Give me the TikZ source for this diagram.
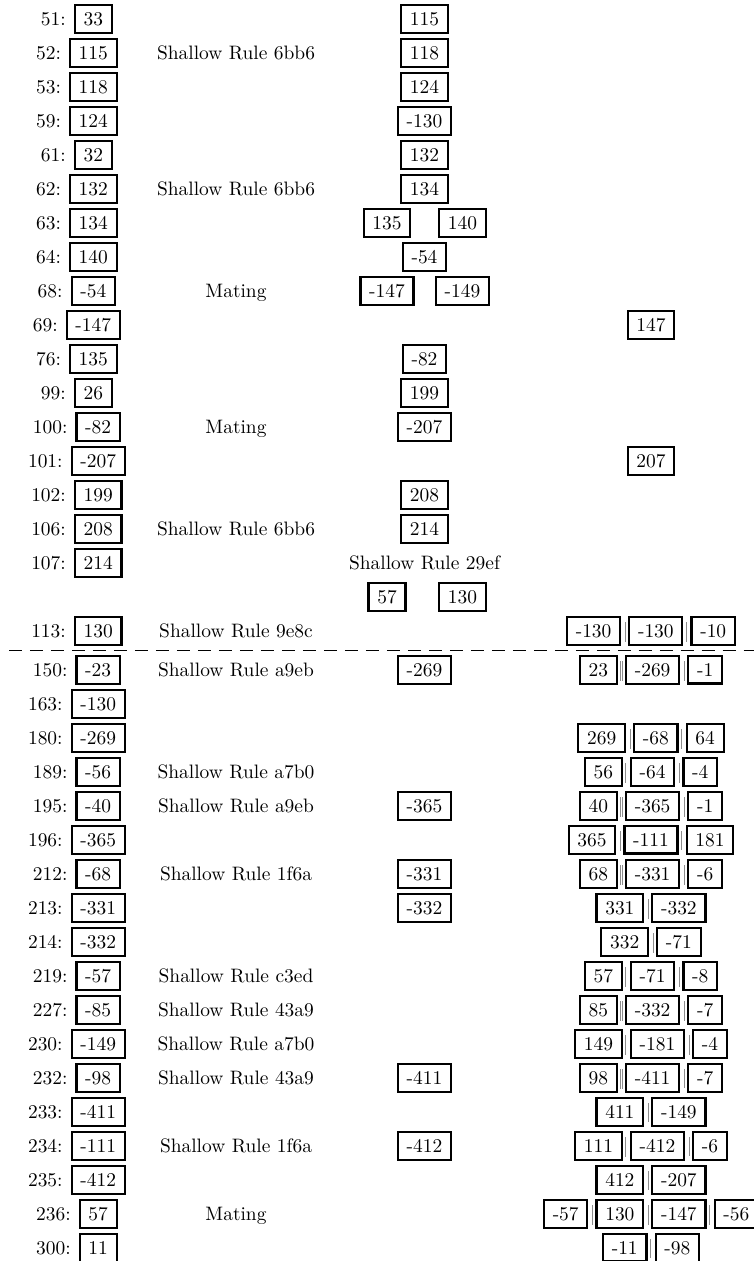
\documentclass[tikz,border=0pt]{standalone}
\usepackage{tikz}
\usetikzlibrary{positioning,matrix}

\begin{document}
\begin{tikzpicture}[x=0.5145pt,y=0.5145pt,
  numbox/.style={draw,line width=1.1pt,inner xsep=4.5pt,inner ysep=3.7pt},
  steplab/.style={inner sep=0pt},
  ruletxt/.style={text depth=0pt},
  boxrow/.style={matrix of nodes,nodes={numbox},column sep=3.6pt,inner sep=0pt},
  sepbar/.style={draw=black!45,line width=0.3pt,double=white,double distance=0.5pt},
  cutline/.style={line width=1pt,dash pattern=on 6.7pt off 4.1pt}]
\useasboundingbox (0,0) rectangle (754,-1261);
\foreach \y/\lab/\val in %
{19/51/33,53/52/115,87/53/118,121/59/124,155/61/32,189/62/132,223/63/134,
 257/64/140,291/68/-54,325/69/-147,359/76/135,393/99/26,427/100/-82,
 461/101/-207,495/102/199,529/106/208,563/107/214,631/113/130,670/150/-23,
 704/163/-130,738/180/-269,772/189/-56,806/195/-40,840/196/-365,874/212/-68,
 908/213/-331,942/214/-332,976/219/-57,1010/227/-85,1044/230/-149,
 1078/232/-98,1112/233/-411,1146/234/-111,1180/235/-412,1214/236/57,
 1248/300/11} {
   \pgfmathsetmacro\bx{\lab>99 ? 98.2 : 93.3}
   \node[numbox] (st\lab) at (\bx,-\y) {\val};
   \node[steplab,left=3.9pt of st\lab] (lab\lab) {\lab:};
}
\foreach \y/\txt [count=\i] in %
{53/Shallow Rule 6bb6,189/Shallow Rule 6bb6,291/Mating,427/Mating,
 529/Shallow Rule 6bb6,631/Shallow Rule 9e8c,670/Shallow Rule a9eb,
 772/Shallow Rule a7b0,806/Shallow Rule a9eb,874/Shallow Rule 1f6a,
 976/Shallow Rule c3ed,1010/Shallow Rule 43a9,1044/Shallow Rule a7b0,
 1078/Shallow Rule 43a9,1146/Shallow Rule 1f6a,1214/Mating} {
   \node[ruletxt] (rule\i) at (236,-\y) {\txt};
}
\foreach \y/\val [count=\i] in %
{19/115,53/118,87/124,121/-130,155/132,189/134,257/-54,359/-82,393/199,
 427/-207,495/208,529/214,670/-269,806/-365,874/-331,908/-332,1078/-411,
 1146/-412} {
   \node[numbox] (mid\i) at (424.5,-\y) {\val};
}
\foreach \y/\a/\b [count=\i] in {223/135/140,291/-147/-149,597/57/130} {
   \node[numbox] (pl\i) at (387,-\y) {\a};
   \node[numbox] (pr\i) at (462.5,-\y) {\b};
}
\node[ruletxt] (rule29ef) at (424.5,-563) {Shallow Rule 29ef};
\node[numbox] (c69) at (651,-325) {147};
\node[numbox] (c101) at (651,-461) {207};
\matrix (c113) [boxrow] at (651,-631) {-130 & -130 & -10\\};
\matrix (c150) [boxrow] at (651,-670) {23 & -269 & -1\\};
\matrix (c180) [boxrow] at (651,-738) {269 & -68 & 64\\};
\matrix (c189) [boxrow] at (651,-772) {56 & -64 & -4\\};
\matrix (c195) [boxrow] at (651,-806) {40 & -365 & -1\\};
\matrix (c196) [boxrow] at (651,-840) {365 & -111 & 181\\};
\matrix (c212) [boxrow] at (651,-874) {68 & -331 & -6\\};
\matrix (c213) [boxrow] at (651,-908) {331 & -332\\};
\matrix (c214) [boxrow] at (651,-942) {332 & -71\\};
\matrix (c219) [boxrow] at (651,-976) {57 & -71 & -8\\};
\matrix (c227) [boxrow] at (651,-1010) {85 & -332 & -7\\};
\matrix (c230) [boxrow] at (651,-1044) {149 & -181 & -4\\};
\matrix (c232) [boxrow] at (651,-1078) {98 & -411 & -7\\};
\matrix (c233) [boxrow] at (651,-1112) {411 & -149\\};
\matrix (c234) [boxrow] at (651,-1146) {111 & -412 & -6\\};
\matrix (c235) [boxrow] at (651,-1180) {412 & -207\\};
\matrix (c236) [boxrow] at (651,-1214) {-57 & 130 & -147 & -56\\};
\matrix (c300) [boxrow] at (651,-1248) {-11 & -98\\};
\foreach \m/\n in %
{c113/3,c150/3,c180/3,c189/3,c195/3,c196/3,c212/3,c213/2,c214/2,c219/3,
 c227/3,c230/3,c232/3,c233/2,c234/3,c235/2,c236/4,c300/2} {
   \foreach \k [remember=\k as \j (initially 1)] in {2,...,\n} {
      \draw[sepbar] ([xshift=1.8pt,yshift=4.5pt]\m-1-\j.east)
         -- ([xshift=1.8pt,yshift=-5.5pt]\m-1-\j.east);
   }
}
\draw[cutline] (9,-650.5) -- (770,-650.5);
\end{tikzpicture}
\end{document}
